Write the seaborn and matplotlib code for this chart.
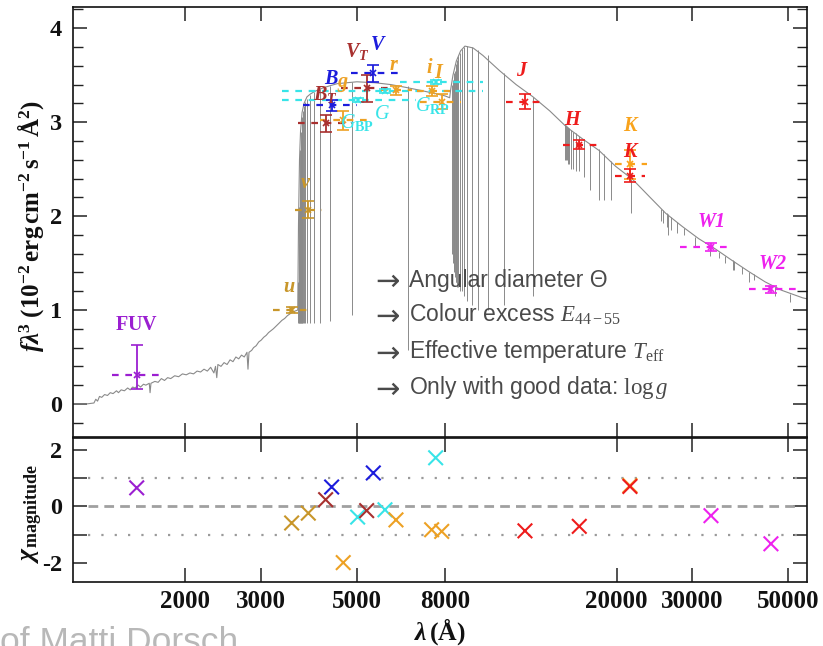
import matplotlib
matplotlib.use("Agg")
import matplotlib.pyplot as plt
import matplotlib.ticker as mticker
import pandas as pd
import seaborn as sns

# ---------------- photometry ----------------
bands = ["FUV", "u", "v", "B_T", "B", "g", "G_BP", "V_T", "V", "G",
         "r", "i", "G_RP", "I", "J", "H", "K_UK", "K", "W1", "W2"]
band_wave = [1543, 3529, 3857, 4231, 4369, 4648, 5020, 5267, 5457, 5808,
             6159, 7452, 7613, 7863, 12264, 16389, 21480, 21480, 33110, 45600]
band_flux = [0.31, 1.00, 2.07, 2.99, 3.18, 3.02, 3.24, 3.36, 3.52, 3.33,
             3.34, 3.33, 3.43, 3.22, 3.22, 2.76, 2.55, 2.43, 1.67, 1.22]
err_lo = [0.15, 0.03, 0.09, 0.09, 0.06, 0.10, 0.02, 0.14, 0.09, 0.02,
          0.05, 0.05, 0.02, 0.08, 0.085, 0.05, 0.15, 0.07, 0.04, 0.04]
err_hi = [0.32, 0.03, 0.09, 0.09, 0.06, 0.10, 0.02, 0.14, 0.09, 0.02,
          0.05, 0.05, 0.02, 0.08, 0.085, 0.05, 0.15, 0.07, 0.04, 0.04]
filt_lo = [1350, 3190, 3600, 3650, 3750, 4100, 3350, 4600, 4850, 3350,
           5700, 6900, 6300, 7000, 11100, 15000, 19800, 19800, 28000, 40500]
filt_hi = [1780, 3900, 4150, 4900, 5000, 5300, 6840, 6000, 6300, 9800,
           6700, 8200, 9800, 8700, 13500, 18000, 23500, 23300, 37000, 52000]
chi = [0.66, -0.59, -0.24, 0.24, 0.69, -2.00, -0.38, -0.15, 1.19, -0.12,
       -0.48, -0.83, 1.73, -0.89, -0.87, -0.71, 0.74, 0.71, -0.33, -1.33]

# ---------------- model spectrum (f * lambda^3) ----------------
spec_wave = [1100, 1180, 1228, 1240, 1252, 1265, 1280, 1300, 1320, 1340, 1360,
             1385, 1400, 1420, 1445, 1470, 1490, 1510, 1530, 1555, 1575, 1600,
             1620, 1650, 1657, 1665, 1700, 1730, 1760, 1790, 1820, 1850, 1890,
             1930, 1970, 2010, 2050, 2090, 2130, 2170, 2210, 2250, 2290, 2330,
             2350, 2366, 2380, 2420, 2460, 2500, 2540, 2580, 2620, 2660, 2700,
             2740, 2780, 2795, 2810, 2850, 2880, 2920, 2960, 3000, 3040, 3080,
             3120, 3160, 3200, 3250, 3300, 3350, 3400, 3450, 3500, 3550, 3600,
             3646, 3660, 3680, 3700, 3730, 3770, 3830, 3900, 4000, 4200, 4500,
             5000, 5500, 6000, 6500, 7000, 7500, 8000, 8204, 8250, 8350, 8500,
             8700, 8900, 9300, 9800, 10700, 11700, 12800, 14000, 15300, 16700,
             18200, 19900, 21800, 23800, 26000, 28400, 31000, 33900, 37000,
             40500, 44200, 48300, 54000, 55200]
spec_flux = [0.00, 0.00, 0.01, 0.05, 0.03, 0.08, 0.07, 0.10, 0.09, 0.12, 0.11,
             0.14, 0.12, 0.15, 0.14, 0.17, 0.15, 0.18, 0.17, 0.20, 0.18, 0.21,
             0.20, 0.22, 0.12, 0.22, 0.24, 0.23, 0.27, 0.25, 0.28, 0.27, 0.30,
             0.29, 0.32, 0.31, 0.33, 0.32, 0.35, 0.34, 0.37, 0.35, 0.39, 0.33,
             0.40, 0.28, 0.42, 0.40, 0.44, 0.42, 0.47, 0.45, 0.50, 0.48, 0.52,
             0.50, 0.55, 0.37, 0.55, 0.57, 0.60, 0.62, 0.66, 0.68, 0.71, 0.73,
             0.76, 0.78, 0.80, 0.83, 0.86, 0.89, 0.91, 0.94, 0.96, 0.98, 0.99,
             1.00, 1.90, 2.60, 2.90, 3.10, 3.20, 3.27, 3.30, 3.33, 3.37, 3.41,
             3.43, 3.42, 3.40, 3.37, 3.34, 3.31, 3.28, 3.26, 3.35, 3.50, 3.65,
             3.76, 3.81, 3.79, 3.71, 3.55, 3.40, 3.27, 3.12, 2.95, 2.82,
             2.70, 2.53, 2.39, 2.21, 2.03, 1.89, 1.76, 1.65, 1.53,
             1.41, 1.30, 1.21, 1.13, 1.12]

# hydrogen absorption lines: wavelength, local continuum, line floor
line_wave = [3656, 3666, 3676, 3686, 3697, 3704, 3712, 3722, 3734, 3750, 3771,
             3798, 3835, 3889, 3970, 4102, 4340, 4861, 6563,
             8300, 8345, 8374, 8413, 8438, 8467, 8502, 8545, 8598, 8665, 8750,
             8863, 9015, 9229, 9546, 10049, 10938, 12818,
             15192, 15260, 15341, 15439, 15556, 15700, 15880, 16109, 16407,
             16806, 17362, 18174, 18751, 19445, 21655,
             25300, 25663, 26126, 26252, 26751, 27575, 28722, 30384, 32961,
             34552, 35723, 37206, 37395, 39129, 40512, 41683, 45239, 46525,
             50503]
line_top = [1.30, 1.70, 2.10, 2.40, 2.70, 2.80, 2.90, 3.00, 3.05, 3.12, 3.17,
            3.21, 3.25, 3.29, 3.32, 3.35, 3.39, 3.43, 3.38,
            3.40, 3.45, 3.48, 3.52, 3.55, 3.58, 3.62, 3.66, 3.70, 3.74, 3.78,
            3.80, 3.81, 3.80, 3.77, 3.71, 3.52, 3.27,
            2.98, 2.97, 2.96, 2.95, 2.94, 2.92, 2.90, 2.88, 2.85,
            2.81, 2.77, 2.71, 2.66, 2.59, 2.40,
            2.08, 2.06, 2.03, 2.02, 1.99, 1.94, 1.87, 1.78, 1.68,
            1.62, 1.58, 1.53, 1.52, 1.46, 1.41, 1.38, 1.27, 1.25,
            1.17]
line_floor = [0.86, 0.86, 0.86, 0.86, 0.86, 0.86, 0.86, 0.86, 0.86, 0.86, 0.86,
              0.86, 0.86, 0.86, 0.86, 0.86, 0.88, 0.95, 0.57,
              1.60, 1.50, 1.45, 1.40, 1.35, 1.30, 1.30, 1.25, 1.25, 1.20, 1.20,
              1.15, 1.10, 1.05, 1.00, 1.00, 1.05, 1.15,
              2.60, 2.60, 2.60, 2.55, 2.55, 2.50, 2.50, 2.48, 2.48,
              2.42, 2.28, 2.17, 2.17, 2.17, 2.03,
              1.95, 1.93, 1.88, 1.80, 1.85, 1.82, 1.80, 1.68, 1.57,
              1.55, 1.50, 1.43, 1.43, 1.38, 1.30, 1.32, 1.20, 1.15,
              1.09]

# ---------------- styling ----------------
band_color = {
    "FUV": "#9b1fd1",
    "u": "#c8962a", "v": "#c8962a",
    "B_T": "#a8302f", "V_T": "#a8302f",
    "B": "#1c1cdc", "V": "#1c1cdc",
    "g": "#eda124", "r": "#eda124", "i": "#eda124", "I": "#eda124",
    "G_BP": "#38e4e8", "G": "#38e4e8", "G_RP": "#38e4e8",
    "J": "#ee1c1c", "H": "#ee1c1c", "K": "#ee1c1c",
    "K_UK": "#f9a31b",
    "W1": "#ee22ee", "W2": "#ee22ee",
}
band_label = {
    "FUV": r"$\mathbf{FUV}$", "u": r"$\mathbfit{u}$", "v": r"$\mathbfit{v}$",
    "B_T": r"$\mathbfit{B}_{\mathbfit{T}}$", "B": r"$\mathbfit{B}$",
    "g": r"$\mathbfit{g}$", "G_BP": r"$\mathit{G}_{\mathbf{BP}}$",
    "V_T": r"$\mathbfit{V}_{\mathbfit{T}}$", "V": r"$\mathbfit{V}$",
    "G": r"$\mathit{G}$", "r": r"$\mathbfit{r}$", "i": r"$\mathbfit{i}$",
    "G_RP": r"$\mathit{G}_{\mathbf{RP}}$", "I": r"$\mathbfit{I}$",
    "J": r"$\mathbfit{J}$", "H": r"$\mathbfit{H}$", "K_UK": r"$\mathbfit{K}$",
    "K": r"$\mathbfit{K}$", "W1": r"$\mathbfit{W1}$", "W2": r"$\mathbfit{W2}$",
}
label_pos = {
    "FUV": (1543, 0.84), "u": (3493, 1.24), "v": (3800, 2.35),
    "B_T": (4220, 3.29), "B": (4365, 3.45), "g": (4650, 3.40),
    "G_BP": (5015, 3.00), "G": (5720, 3.08), "V_T": (5000, 3.75),
    "V": (5620, 3.82), "r": (6100, 3.60), "i": (7360, 3.57),
    "I": (7760, 3.52), "G_RP": (7500, 3.18), "J": (12100, 3.54),
    "H": (15900, 3.02), "K_UK": (21700, 2.95), "K": (21700, 2.68),
    "W1": (33100, 1.93), "W2": (46000, 1.48),
}

sns.set_theme(style="ticks")
plt.rcParams.update({
    "font.family": ["Liberation Serif", "DejaVu Serif"],
    "mathtext.fontset": "custom",
    "mathtext.rm": "Liberation Serif",
    "mathtext.it": "Liberation Serif:italic",
    "mathtext.bf": "Liberation Serif:bold",
    "mathtext.bfit": "Liberation Serif:bold:italic",
    "mathtext.sf": "Liberation Sans",
    "mathtext.default": "bf",
    "axes.unicode_minus": False,
    "axes.linewidth": 1.2,
    "axes.edgecolor": "#111111",
})

fig = plt.figure(figsize=(8.23, 6.46), dpi=100)
ax1 = fig.add_axes([0.0891, 0.3228, 0.8911, 0.6669])
ax2 = fig.add_axes([0.0891, 0.0995, 0.8911, 0.2232], sharex=ax1)
for ax in (ax1, ax2):
    ax.set_xscale("log")

spec_color = "#8a8a8a"
sns.lineplot(x=spec_wave, y=spec_flux, ax=ax1, color=spec_color, lw=0.8,
             sort=False, estimator=None, zorder=1)
ax1.vlines(line_wave, line_floor, line_top, colors=spec_color, lw=0.7, zorder=1)

for b, w, f, lo, hi, fl, fh in zip(bands, band_wave, band_flux, err_lo, err_hi,
                                   filt_lo, filt_hi):
    c = band_color[b]
    ax1.hlines(f, fl, fh, colors=c, linestyles=(0, (3, 3)), lw=1.6, zorder=3)
    ax1.errorbar([w], [f], yerr=[[lo], [hi]], fmt="x", color=c, ms=5, mew=1.2,
                 elinewidth=1.3, capsize=4, capthick=1.3, zorder=4)
    lx, ly = label_pos[b]
    ax1.text(lx, ly, band_label[b], color=c, fontsize=14.5, ha="center",
             va="center", zorder=5)

# residual panel
res = pd.DataFrame({"wave": band_wave, "chi": chi, "band": bands})
ax2.hlines([1, -1], 1190, 52400, colors="#9a9a9a", linestyles=(0, (1, 5)), lw=1.6)
ax2.hlines(0, 1190, 52400, colors="#a0a0a0", linestyles=(0, (3.5, 2.2)), lw=2.0)
sns.scatterplot(data=res, x="wave", y="chi", hue="band", palette=band_color,
                marker="x", s=110, linewidth=1.5, legend=False, ax=ax2, zorder=4)

ax1.set_xlim(1100, 55200)
ax1.set_ylim(-0.357, 4.23)
ax2.set_ylim(-2.68, 2.45)

xt = [2000, 3000, 5000, 8000, 20000, 30000, 50000]
ax2.xaxis.set_major_locator(mticker.FixedLocator(xt))
ax2.xaxis.set_major_formatter(mticker.FixedFormatter([str(t) for t in xt]))
ax2.xaxis.set_minor_locator(mticker.NullLocator())
ax1.set_yticks([0, 1, 2, 3, 4])
ax1.yaxis.set_minor_locator(mticker.MultipleLocator(0.2))
ax2.set_yticks([-2, -1, 0, 1, 2])
ax2.set_yticklabels(["-2", "", "0", "", "2"])

for ax in (ax1, ax2):
    ax.tick_params(which="both", direction="in", top=True, right=True,
                   colors="#222222", labelcolor="#111111")
    ax.tick_params(which="major", length=10, width=1.1)
    ax.tick_params(which="minor", length=7, width=1.0)
    ax.tick_params(axis="y", labelsize=17.5, pad=8)
    ax.tick_params(axis="x", labelsize=18, pad=6)
    ax.set_xlabel("")
    ax.set_ylabel("")
    for lab in ax.get_xticklabels() + ax.get_yticklabels():
        lab.set_fontweight("bold")
ax1.tick_params(axis="x", labelbottom=False)

fig.text(31 / 823, 1 - 226 / 646,
         r"$\mathbfit{f\lambda}^{\mathbf{3}}\ \mathbf{(10^{-2}\,erg\,cm^{-2}\,s^{-1}\,Å^{2})}$",
         rotation=90, ha="center", va="center", fontsize=18, color="#111111")
fig.text(33 / 823, 1 - 514 / 646, r"$\mathbfit{\chi}_{\mathbf{magnitude}}$",
         rotation=90, ha="center", va="center", fontsize=18.5, color="#111111")
fig.text(440 / 823, 1 - 632 / 646, r"$\mathbfit{\lambda}\,\mathbf{(Å)}$",
         ha="center", va="center", fontsize=18.5, color="#111111")

notes = [
    "Angular diameter Θ",
    r"Colour excess $\mathit{E}_{\mathrm{44-55}}$",
    r"Effective temperature $\mathit{T}_{\mathrm{eff}}$",
    r"Only with good data: $\mathrm{log}\,\mathit{g}$",
]
for txt, yb in zip(notes, [1.246, 0.876, 0.487, 0.103]):
    ax1.text(5506, yb - 0.035, "→", family=["DejaVu Sans"], fontsize=21,
             color="#4a4a4a", ha="left", va="baseline")
    ax1.text(6620, yb, txt, family=["Liberation Sans", "DejaVu Sans"],
             fontsize=16.5, color="#4a4a4a", ha="left", va="baseline",
             fontweight="normal")

fig.text(0.0, 1 - 652 / 646, "of Matti Dorsch", family=["Liberation Sans"],
         fontsize=25.5, color="#b8b8b8", ha="left", va="baseline")

fig.savefig("out.png", dpi=100)
